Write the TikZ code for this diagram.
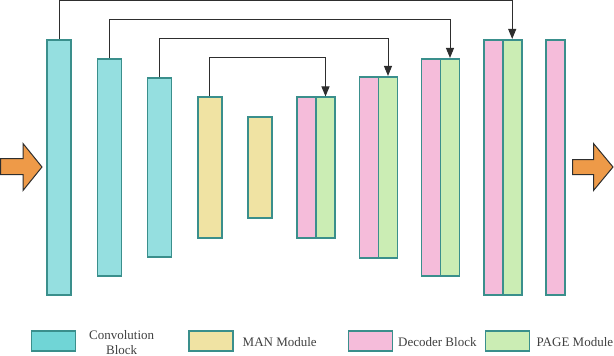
\documentclass[tikz,border=0pt]{standalone}
\usepackage{fontspec}
\setmainfont{Liberation Serif}
\usepackage{xcolor}
\usepackage{tikz}
\usetikzlibrary{arrows.meta,positioning}

\definecolor{convfill}{HTML}{95DFE0}
\definecolor{convkey}{HTML}{70D5D6}
\definecolor{manfill}{HTML}{F0E3A3}
\definecolor{decfill}{HTML}{F5BCDA}
\definecolor{pagefill}{HTML}{CBEDB4}
\definecolor{edgeteal}{HTML}{3A8F8C}
\definecolor{arroworange}{HTML}{EE9A48}
\definecolor{linedark}{HTML}{2E2E2E}

\begin{document}
\begin{tikzpicture}[x=1pt, y=-1pt]
        \tikzstyle{block} = [rectangle, draw=edgeteal, line width=1.6pt, inner sep=0pt, minimum width=24pt]
        \tikzstyle{half} = [rectangle, draw=edgeteal, line width=1.6pt, inner sep=0pt, minimum width=19pt]
        \tikzstyle{key} = [rectangle, draw=edgeteal, line width=1.6pt, minimum width=44pt, minimum height=20.5pt]
        \tikzstyle{skip} = [-{Triangle[width=8pt,length=10pt]}, draw=linedark, line width=1pt]
        \tikzstyle{flow} = [draw=linedark, line width=1pt, fill=arroworange, line join=miter]
        \tikzstyle{label} = [font=\fontsize{13}{15}\selectfont, text=black!75, align=center]

        \useasboundingbox (0,0) rectangle (614,356);

        % encoder side
        \node (conv1) [block, fill=convfill, minimum height=255.5pt] at (59,167.5) {};
        \node (conv2) [block, fill=convfill, minimum height=217.5pt] at (109.3,167.5) {};
        \node (conv3) [block, fill=convfill, minimum height=178.5pt] at (159.5,167.5) {};
        \node (man1) [block, fill=manfill, minimum height=140.5pt] at (209.7,167.5) {};
        \node (man2) [block, fill=manfill, minimum height=101.5pt] at (260,167.5) {};

        % decoder side
        \node (dec1) [half, fill=decfill, minimum height=140.5pt] at (306.5,167.5) {};
        \node (page1) [half, fill=pagefill, minimum height=140.5pt] at (325.5,167.5) {};
        \node (dec2) [half, fill=decfill, minimum height=181.5pt] at (369,167.5) {};
        \node (page2) [half, fill=pagefill, minimum height=181.5pt] at (388,167.5) {};
        \node (dec3) [half, fill=decfill, minimum height=217.5pt] at (431,167.5) {};
        \node (page3) [half, fill=pagefill, minimum height=217.5pt] at (450,167.5) {};
        \node (dec4) [half, fill=decfill, minimum height=255.5pt] at (493.2,167.5) {};
        \node (page4) [half, fill=pagefill, minimum height=255.5pt] at (512.2,167.5) {};
        \node (dec5) [half, fill=decfill, minimum height=255.5pt] at (555.7,167.5) {};

        % skip connections
        \draw[skip] (conv1.north) -- ++(0,-38.5) -| (page4.north);
        \draw[skip] (conv2.north) -- ++(0,-38.5) -| (page3.north);
        \draw[skip] (conv3.north) -- ++(0,-38.5) -| (page2.north);
        \draw[skip] (man1.north) -- ++(0,-38.5) -| (page1.north);

        % input and output arrows
        \draw[flow] (0.5,158.5) -- (23,158.5) -- (23,143.5) -- (42,167) -- (23,190.5) -- (23,174.5) -- (0.5,174.5) -- cycle;
        \draw[flow] (572.5,159.5) -- (593.5,159.5) -- (593.5,143.5) -- (613,167) -- (593.5,190.5) -- (593.5,174.5) -- (572.5,174.5) -- cycle;

        % legend
        \node (keyconv) [key, fill=convkey] at (53.5,341) {};
        \node (txtconv) [label] at (121.7,342.5) {Convolution\\Block};
        \node (keyman) [key, fill=manfill] at (211,341) {};
        \node (txtman) [label, anchor=west, inner sep=0pt] at (242.5,342.5) {MAN Module};
        \node (keydec) [key, fill=decfill] at (370.3,341) {};
        \node (txtdec) [label, anchor=west, inner sep=0pt] at (398,342.5) {Decoder Block};
        \node (keypage) [key, fill=pagefill] at (507.5,341) {};
        \node (txtpage) [label, anchor=west, inner sep=0pt] at (536.5,342.5) {PAGE Module};
    \end{tikzpicture}
\end{document}
